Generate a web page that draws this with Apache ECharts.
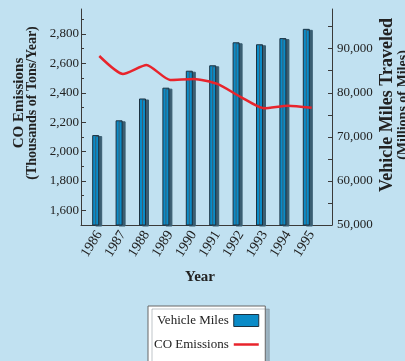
<!DOCTYPE html>
<html>
<head>
<meta charset="utf-8">
<script src="https://cdn.jsdelivr.net/npm/echarts@6/dist/echarts.min.js"></script>
<style>
  html, body { margin: 0; padding: 0; background: #c1e1f1; }
  #chart { width: 405px; height: 361px; }
</style>
</head>
<body>
<div id="chart"></div>
<script>
// Vehicle miles traveled (millions) and CO emissions (thousands of tons/year), 1986-1995
const years = ['1986', '1987', '1988', '1989', '1990', '1991', '1992', '1993', '1994', '1995'];
const vehicleMiles = [70400, 73750, 78700, 81150, 85000, 86230, 91450, 91000, 92400, 94500];
const coEmissions = [2650, 2528, 2589, 2487, 2494, 2460, 2371, 2294, 2312, 2298];

// Tick values for the two value axes
const coTicks = [1600, 1800, 2000, 2200, 2400, 2600, 2800];
const coMinorTicks = [1700, 1900, 2100, 2300, 2500, 2700, 2900];
const milesTicks = [50000, 60000, 70000, 80000, 90000];
const milesMinorTicks = [55000, 65000, 75000, 85000, 95000];

const CO_MIN = 1500, CO_MAX = 2970;
const MILES_MIN = 50000, MILES_MAX = 99000;

const FONT = "'Liberation Serif', 'DejaVu Serif', serif";
const AXIS_COLOR = '#3a3a3a';
const TEXT_COLOR = '#222';
const BAR_BLUE = '#0a8bc7';
const LINE_RED = '#e8242c';

const fmt = v => Number(v).toLocaleString('en-US');

const chart = echarts.init(document.getElementById('chart'), null, { renderer: 'canvas' });

const hiddenY = (grid, min, max) => ({
  type: 'value', gridIndex: grid, min: min, max: max, show: false,
  splitLine: { show: false }
});

const tickAxis = (pos, min, max, ticks, len, withLabels) => ({
  type: 'value', gridIndex: 0, position: pos, min: min, max: max,
  axisLine: { show: withLabels, lineStyle: { color: AXIS_COLOR, width: 1 } },
  axisTick: { show: true, inside: true, length: len, customValues: ticks,
              lineStyle: { color: AXIS_COLOR, width: 1 } },
  axisLabel: withLabels ? {
    show: true, customValues: ticks, formatter: fmt,
    fontFamily: FONT, fontSize: 13, color: TEXT_COLOR,
    margin: pos === 'left' ? 2 : 5, padding: [0, 0, 6, 0]
  } : { show: false },
  splitLine: { show: false }
});

const option = {
  backgroundColor: '#c1e1f1',
  animation: false,
  grid: [
    { left: 81, right: 73, top: 9, bottom: 136 },      // frame with both value axes
    { left: 84, right: 87, top: 9, bottom: 136 },      // bars
    { left: 87.5, right: 81.5, top: 9, bottom: 136 }   // line and year labels
  ],
  xAxis: [
    { type: 'value', gridIndex: 0, min: 0, max: 1,
      axisLine: { show: true, lineStyle: { color: AXIS_COLOR, width: 1 } },
      axisTick: { show: false }, axisLabel: { show: false }, splitLine: { show: false } },
    { type: 'category', gridIndex: 1, data: years, show: false },
    { type: 'category', gridIndex: 2, data: years,
      axisLine: { show: false }, axisTick: { show: false }, splitLine: { show: false },
      axisLabel: { rotate: 58, margin: 7, fontFamily: FONT, fontSize: 14, color: TEXT_COLOR, interval: 0 } }
  ],
  yAxis: [
    tickAxis('left', CO_MIN, CO_MAX, coTicks, 5, true),
    tickAxis('left', CO_MIN, CO_MAX, coMinorTicks, 3, false),
    tickAxis('right', MILES_MIN, MILES_MAX, milesTicks, 4, true),
    tickAxis('right', MILES_MIN, MILES_MAX, milesMinorTicks, 4, false),
    hiddenY(1, MILES_MIN, MILES_MAX),
    hiddenY(2, CO_MIN, CO_MAX)
  ],
  legend: {
    orient: 'vertical', left: 148, top: 306, height: 80, align: 'right',
    itemWidth: 25, itemHeight: 12, itemGap: 11,
    padding: [8, 6, 20, 6],
    backgroundColor: '#ffffff', borderColor: '#666', borderWidth: 1,
    shadowColor: 'rgba(110,125,135,0.45)', shadowOffsetX: 4, shadowOffsetY: 3, shadowBlur: 0,
    textStyle: { fontFamily: FONT, fontSize: 13, color: TEXT_COLOR, width: 78 },
    data: [
      { name: 'Vehicle Miles', icon: 'rect',
        itemStyle: { color: BAR_BLUE, borderColor: '#1b3140', borderWidth: 1,
                     shadowColor: 'rgba(0,0,0,0)', shadowOffsetX: 0, shadowOffsetY: 0 } },
      { name: 'CO Emissions', icon: 'path://M0,0 H100 V10 H0 Z',
        itemStyle: { color: LINE_RED, borderWidth: 0 } }
    ]
  },
  series: [
    {
      type: 'bar', name: 'Vehicle Miles', xAxisIndex: 1, yAxisIndex: 4,
      data: vehicleMiles, barWidth: 7,
      itemStyle: {
        color: BAR_BLUE, borderColor: '#1b3140', borderWidth: 1,
        shadowColor: '#3a5e72', shadowOffsetX: 3, shadowOffsetY: 1, shadowBlur: 0
      },
      emphasis: { disabled: true }
    },
    {
      type: 'line', name: 'CO Emissions', xAxisIndex: 2, yAxisIndex: 5,
      data: coEmissions, smooth: 0.2, symbol: 'none', z: 5,
      lineStyle: { color: LINE_RED, width: 2.5 },
      itemStyle: { color: LINE_RED },
      emphasis: { disabled: true }
    }
  ],
  graphic: [
    { type: 'text', x: 19, y: 103, rotation: Math.PI / 2,
      style: { text: 'CO Emissions', font: 'bold 15px ' + FONT, fill: TEXT_COLOR,
               align: 'center', verticalAlign: 'middle', textAlign: 'center', textVerticalAlign: 'middle' } },
    { type: 'text', x: 32, y: 103, rotation: Math.PI / 2,
      style: { text: '(Thousands of Tons/Year)', font: 'bold 14px ' + FONT, fill: TEXT_COLOR,
               align: 'center', verticalAlign: 'middle', textAlign: 'center', textVerticalAlign: 'middle' } },
    { type: 'text', x: 387, y: 105, rotation: Math.PI / 2,
      style: { text: 'Vehicle Miles Traveled', font: 'bold 18px ' + FONT, fill: TEXT_COLOR,
               align: 'center', verticalAlign: 'middle', textAlign: 'center', textVerticalAlign: 'middle' } },
    { type: 'text', x: 403, y: 105, rotation: Math.PI / 2,
      style: { text: '(Millions of Miles)', font: 'bold 14px ' + FONT, fill: TEXT_COLOR,
               align: 'center', verticalAlign: 'middle', textAlign: 'center', textVerticalAlign: 'middle' } },
    { type: 'text', x: 200, y: 277,
      style: { text: 'Year', font: 'bold 15px ' + FONT, fill: TEXT_COLOR,
               align: 'center', verticalAlign: 'middle', textAlign: 'center', textVerticalAlign: 'middle' } }
  ]
};

chart.setOption(option);
</script>
</body>
</html>
